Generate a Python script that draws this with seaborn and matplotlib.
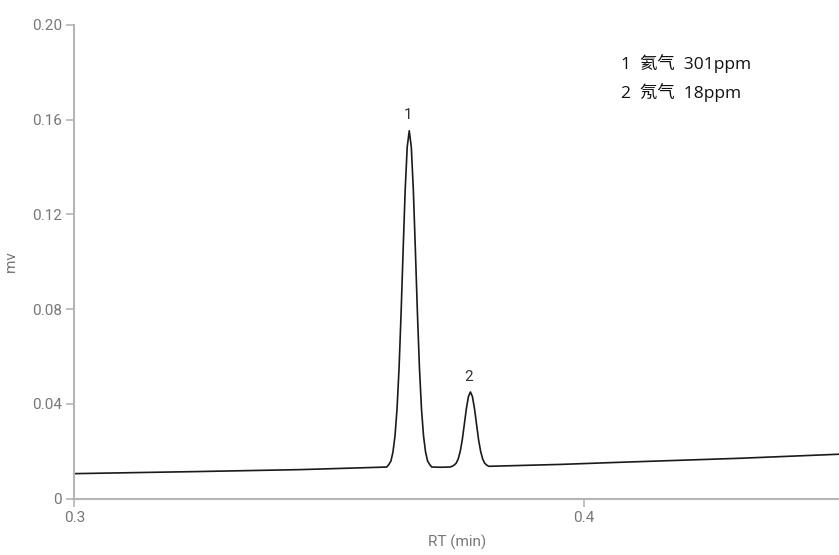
import numpy as np
import pandas as pd
import matplotlib
matplotlib.use('Agg')
import matplotlib.pyplot as plt
import seaborn as sns

# chromatogram trace (RT in min, signal in mv)
rt = [0.3000, 0.3247, 0.3443, 0.3600,
      # peak 1
      0.3613, 0.3617, 0.3621, 0.3625, 0.3629, 0.3633, 0.3637, 0.3641, 0.3645,
      0.3649, 0.3653, 0.3657, 0.3661, 0.3665, 0.3669, 0.3673, 0.3677, 0.3681,
      0.3685, 0.3689, 0.3693, 0.3697, 0.3701,
      0.3718, 0.3737,
      # peak 2
      0.3741, 0.3745, 0.3749, 0.3753, 0.3757, 0.3761, 0.3765, 0.3769, 0.3773,
      0.3777, 0.3781, 0.3785, 0.3789, 0.3793, 0.3797, 0.3801, 0.3805, 0.3809,
      0.3813,
      0.3954, 0.4071, 0.4307, 0.4500]
signal = [0.0105, 0.0114, 0.0122, 0.0132,
          0.0133, 0.0144, 0.0158, 0.0196, 0.0264, 0.0378, 0.0551, 0.0784, 0.1050,
          0.1303, 0.1485, 0.1553, 0.1485, 0.1303, 0.1050, 0.0784, 0.0551, 0.0378,
          0.0264, 0.0196, 0.0158, 0.0144, 0.0133,
          0.0132, 0.0133,
          0.0136, 0.0141, 0.0149, 0.0167, 0.0199, 0.0248, 0.0313, 0.0379, 0.0430,
          0.0450, 0.0430, 0.0379, 0.0313, 0.0248, 0.0199, 0.0167, 0.0149, 0.0141,
          0.0136,
          0.0144, 0.0153, 0.0170, 0.0187]

peak_ids = ['1', '2']
peak_rt = [0.3657, 0.3777]
peak_height = [0.1553, 0.0450]
compounds = ['氦气', '氖气']
conc = ['301ppm', '18ppm']

y_ticks = [0, 0.04, 0.08, 0.12, 0.16, 0.20]
y_labels = ['0', '0.04', '0.08', '0.12', '0.16', '0.20']
x_ticks = [0.3, 0.4]
x_labels = ['0.3', '0.4']

df = pd.DataFrame({'RT': rt, 'mv': signal})

sns.set_style('white')
plt.rcParams['font.family'] = ['Roboto', 'DejaVu Sans']

fig = plt.figure(figsize=(8.39, 5.55), dpi=100)
ax = fig.add_axes([0.0886, 0.1018, 0.9114, 0.8532])

sns.lineplot(data=df, x='RT', y='mv', ax=ax, color='#1a1a1a', linewidth=1.2,
             estimator=None)

ax.set_xlim(0.3, 0.45)
ax.set_ylim(0, 0.20)
ax.set_xticks(x_ticks)
ax.set_xticklabels(x_labels)
ax.set_yticks(y_ticks)
ax.set_yticklabels(y_labels)

axis_grey = '#b5b5b5'
label_grey = '#777777'
for side in ['top', 'right']:
    ax.spines[side].set_visible(False)
for side in ['left', 'bottom']:
    ax.spines[side].set_color(axis_grey)
    ax.spines[side].set_linewidth(1.5)
ax.tick_params(axis='both', direction='out', length=6, width=1.2, color=axis_grey,
               labelcolor=label_grey, labelsize=11, pad=3, left=True, bottom=True)

ax.set_xlabel('RT (min)', color=label_grey, fontsize=11, labelpad=7)
ax.set_ylabel('mv', color=label_grey, fontsize=11, labelpad=10)

# peak numbers above each apex
for pid, x, y in zip(peak_ids, peak_rt, peak_height):
    ax.annotate(pid, xy=(x, y), xytext=(-1, 6), textcoords='offset points',
                ha='center', va='bottom', fontsize=11, color='#333333')

# peak table in the upper right
for i, (pid, name, c) in enumerate(zip(peak_ids, compounds, conc)):
    fig.text(621 / 839, 1 - (64 + 29 * i) / 555, f'{pid}  {name}  {c}',
             ha='left', va='center', fontsize=12.5, color='#111111',
             family=['Open Sans', 'Noto Sans CJK SC'])

fig.savefig('out.png', dpi=100)
